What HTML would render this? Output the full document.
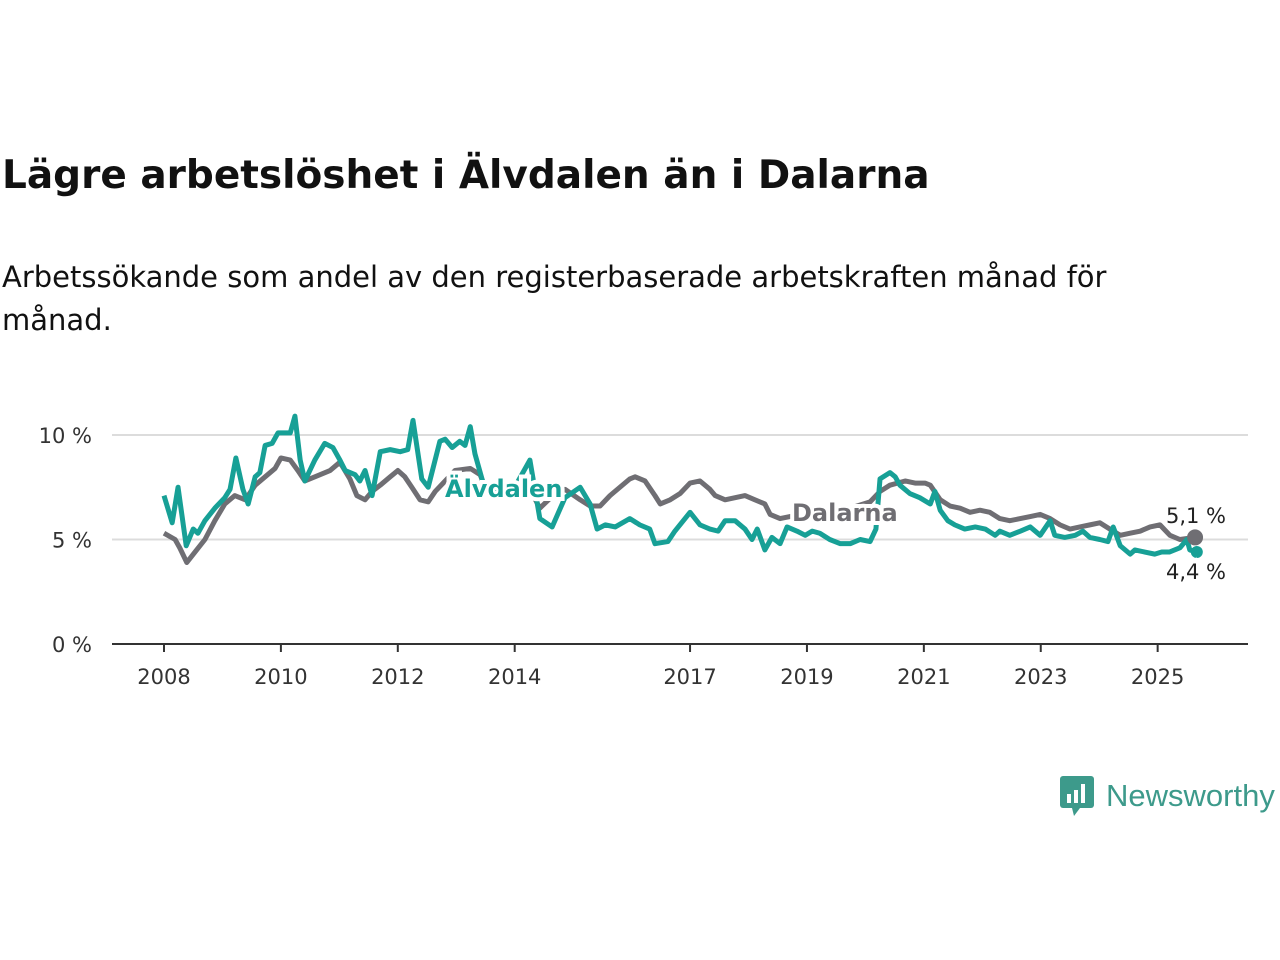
<!DOCTYPE html>
<html><head><meta charset="utf-8">
<style>
body{margin:0;width:1280px;height:960px;background:#fff;font-family:"DejaVu Sans","Liberation Sans",sans-serif;color:#111;overflow:hidden;position:relative}
#title{position:absolute;left:2px;top:153px;font-size:39px;font-weight:bold;margin:0;letter-spacing:0px}
#sub{position:absolute;left:2px;top:256px;font-size:29px;line-height:43px;width:1190px}
svg{position:absolute;left:0;top:0}
</style></head><body>
<h1 id="title">Lägre arbetslöshet i Älvdalen än i Dalarna</h1>
<div id="sub">Arbetssökande som andel av den registerbaserade arbetskraften månad för månad.</div>
<svg id="chart" width="1280" height="960"></svg>
<div style="position:absolute;left:1060px;top:774px;display:flex;align-items:center">
<svg width="36" height="44" style="position:static"><rect x="0" y="2" width="34" height="32" rx="3" fill="#3d9a8b"/><polygon points="12,34 20,34 14,42" fill="#3d9a8b"/><rect x="7" y="20" width="4" height="9" fill="#fff"/><rect x="14" y="16" width="4" height="13" fill="#fff"/><rect x="21" y="10" width="4" height="19" fill="#fff"/></svg>
<span style="font-size:31px;color:#3d9a8b;margin-left:10px;font-family:'Liberation Sans',sans-serif">Newsworthy</span></div>
<script>
const years=[2008,2010,2012,2014,2017,2019,2021,2023,2025];
const yTicks=[0,5,10];
const alvDates=[2008.0,2008.14,2008.24,2008.38,2008.5,2008.58,2008.7,2008.87,2009.04,2009.13,2009.23,2009.35,2009.44,2009.56,2009.64,2009.73,2009.85,2009.95,2010.16,2010.24,2010.33,2010.41,2010.58,2010.75,2010.89,2011.01,2011.1,2011.27,2011.35,2011.44,2011.56,2011.7,2011.87,2012.04,2012.17,2012.26,2012.41,2012.52,2012.72,2012.81,2012.93,2013.06,2013.15,2013.24,2013.32,2013.49,2013.75,2014.0,2014.26,2014.43,2014.64,2014.86,2015.12,2015.29,2015.41,2015.55,2015.72,2015.97,2016.14,2016.31,2016.4,2016.62,2016.74,2017.0,2017.17,2017.34,2017.48,2017.6,2017.77,2017.94,2018.06,2018.15,2018.28,2018.4,2018.54,2018.66,2018.83,2018.97,2019.09,2019.22,2019.39,2019.57,2019.74,2019.91,2020.08,2020.18,2020.25,2020.42,2020.51,2020.59,2020.76,2020.93,2021.11,2021.19,2021.28,2021.41,2021.53,2021.7,2021.88,2022.05,2022.22,2022.3,2022.47,2022.65,2022.82,2022.99,2023.16,2023.24,2023.41,2023.59,2023.72,2023.84,2024.01,2024.15,2024.24,2024.36,2024.53,2024.61,2024.78,2024.95,2025.07,2025.2,2025.38,2025.5,2025.55,2025.67];
const alvValues=[7.1,5.8,7.5,4.7,5.5,5.3,5.9,6.5,7.0,7.4,8.9,7.4,6.7,8.0,8.2,9.5,9.6,10.1,10.1,10.9,8.8,7.8,8.8,9.6,9.4,8.8,8.3,8.1,7.8,8.3,7.1,9.2,9.3,9.2,9.3,10.7,7.9,7.5,9.7,9.8,9.4,9.7,9.5,10.4,9.1,7.4,7.2,7.5,8.8,6.0,5.6,7.0,7.5,6.7,5.5,5.7,5.6,6.0,5.7,5.5,4.8,4.9,5.4,6.3,5.7,5.5,5.4,5.9,5.9,5.5,5.0,5.5,4.5,5.1,4.8,5.6,5.4,5.2,5.4,5.3,5.0,4.8,4.8,5.0,4.9,5.5,7.9,8.2,8.0,7.6,7.2,7.0,6.7,7.3,6.4,5.9,5.7,5.5,5.6,5.5,5.2,5.4,5.2,5.4,5.6,5.2,5.9,5.2,5.1,5.2,5.4,5.1,5.0,4.9,5.6,4.7,4.3,4.5,4.4,4.3,4.4,4.4,4.6,5.0,4.5,4.4];
const dalDates=[2008.0,2008.19,2008.27,2008.39,2008.53,2008.7,2008.87,2009.04,2009.21,2009.39,2009.56,2009.73,2009.9,2010.0,2010.16,2010.29,2010.41,2010.67,2010.84,2011.01,2011.18,2011.3,2011.44,2011.56,2011.7,2011.87,2012.0,2012.12,2012.24,2012.38,2012.52,2012.64,2012.81,2012.98,2013.24,2013.41,2013.53,2013.66,2013.83,2014.0,2014.26,2014.43,2014.69,2014.86,2015.12,2015.29,2015.46,2015.63,2015.8,2015.97,2016.06,2016.23,2016.4,2016.49,2016.66,2016.83,2017.0,2017.17,2017.34,2017.43,2017.6,2017.77,2017.94,2018.11,2018.28,2018.37,2018.54,2018.71,2019.22,2019.74,2020.08,2020.25,2020.42,2020.68,2020.85,2021.02,2021.11,2021.28,2021.45,2021.62,2021.79,2021.96,2022.13,2022.3,2022.47,2022.65,2022.82,2022.99,2023.16,2023.33,2023.5,2023.67,2023.84,2024.01,2024.18,2024.36,2024.53,2024.7,2024.87,2025.04,2025.21,2025.38,2025.64];
const dalValues=[5.3,5.0,4.6,3.9,4.4,5.0,5.9,6.7,7.1,6.9,7.6,8.0,8.4,8.9,8.8,8.3,7.8,8.1,8.3,8.7,7.9,7.1,6.9,7.3,7.6,8.0,8.3,8.0,7.5,6.9,6.8,7.3,7.8,8.3,8.4,8.1,7.2,7.4,7.5,7.7,7.4,6.5,7.2,7.4,6.9,6.6,6.6,7.1,7.5,7.9,8.0,7.8,7.1,6.7,6.9,7.2,7.7,7.8,7.4,7.1,6.9,7.0,7.1,6.9,6.7,6.2,6.0,6.1,6.2,6.5,6.8,7.3,7.6,7.8,7.7,7.7,7.6,6.9,6.6,6.5,6.3,6.4,6.3,6.0,5.9,6.0,6.1,6.2,6.0,5.7,5.5,5.6,5.7,5.8,5.5,5.2,5.3,5.4,5.6,5.7,5.2,5.0,5.1];
const NS="http://www.w3.org/2000/svg";
const svg=document.getElementById('chart');
const X=y=>164+(y-2008)*58.45;
const Y=v=>644-v*20.9;
const F='DejaVu Sans, Liberation Sans, sans-serif';
function mk(t,a,p){const e=document.createElementNS(NS,t);for(const k in a)e.setAttribute(k,a[k]);(p||svg).appendChild(e);return e;}
yTicks.forEach(t=>{
  if(t>0){const g=mk('line',{x1:112,x2:1248,y1:Y(t),y2:Y(t),stroke:'#dcdcdc','stroke-width':2});
  
  }
  const l=mk('text',{x:92,y:Y(t)+8,'text-anchor':'end','font-size':21,fill:'#333','font-family':F});
  l.textContent=t+' %';
  
  
});
const ax=mk('line',{x1:112,x2:1248,y1:644,y2:644,stroke:'#333','stroke-width':2});


years.forEach(yr=>{
  const tk=mk('line',{x1:X(yr),x2:X(yr),y1:644,y2:652,stroke:'#333','stroke-width':2});
  
  
  const l=mk('text',{x:X(yr),y:684,'text-anchor':'middle','font-size':21,fill:'#333','font-family':F});
  l.textContent=yr;
  
  
});
function line(d,v,c,n){
  const p=mk('polyline',{points:d.map((x,i)=>X(x)+','+Y(v[i])).join(' '),fill:'none',stroke:c,'stroke-width':5,'stroke-linejoin':'round'});
  
  
}
line(dalDates,dalValues,'#6f6e73','line-dalarna');
line(alvDates,alvValues,'#17a096','line-alvdalen');
function lab(x,y,t,c,n){
  const e=mk('text',{x:x,y:y,'font-size':24,'font-weight':'bold',fill:c,stroke:'#fff','stroke-width':8,'paint-order':'stroke','font-family':F});
  e.textContent=t;
  
  
}
lab(445,497,'Älvdalen','#17a096','label-alvdalen');
lab(792,521,'Dalarna','#6f6e73','label-dalarna');
const ld=dalDates.length-1, la=alvDates.length-1;
const d1=mk('circle',{cx:X(dalDates[ld]),cy:Y(dalValues[ld]),r:8,fill:'#6f6e73'});


const d2=mk('circle',{cx:X(alvDates[la]),cy:Y(alvValues[la]),r:6,fill:'#17a096'});


function endLab(y,v,n){
  const e=mk('text',{x:1196,y:y,'text-anchor':'middle','font-size':21,fill:'#222',stroke:'#fff','stroke-width':5,'paint-order':'stroke','font-family':F});
  e.textContent=v.toFixed(1).replace('.',',')+' %';
  
  
}
endLab(523,dalValues[ld],'end-label-dalarna');
endLab(579,alvValues[la],'end-label-alvdalen');
</script>
</body></html>
